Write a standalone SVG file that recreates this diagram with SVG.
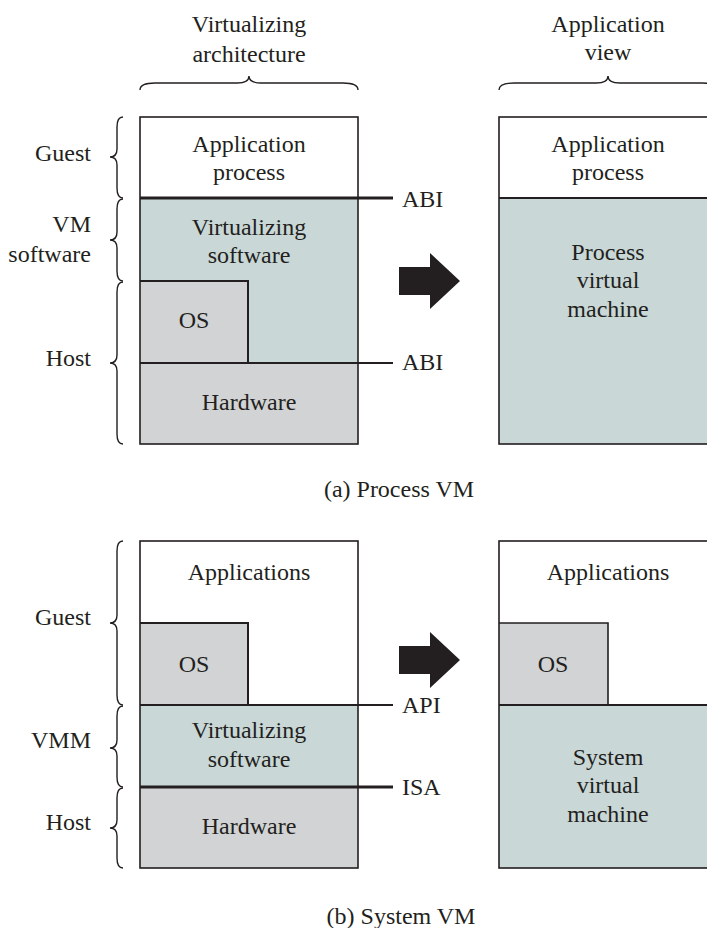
<svg xmlns="http://www.w3.org/2000/svg" width="707" height="928" viewBox="0 0 707 928">
<style>
text{font-family:"Liberation Serif","Times New Roman",serif;font-size:24px;fill:#231f20}
.c{text-anchor:middle}
.e{text-anchor:end}
.w{fill:#ffffff}
.t{fill:#c9d8d7}
.g{fill:#d2d3d5}
.o{fill:none;stroke:#231f20;stroke-width:1.6}
.b{fill:none;stroke:#231f20;stroke-width:1.4}
.thick{stroke:#231f20;stroke-width:3}
.thin{stroke:#231f20;stroke-width:2}
.arr{fill:#231f20}
</style>

<g id="headers">
<text class="c" x="249" y="32">Virtualizing</text>
<text class="c" x="249" y="62">architecture</text>
<path class="b" d="M140,90 Q140,83 155,83 L237,83 Q249,83 249,76 Q249,83 261,83 L343,83 Q358,83 358,90"/>
<text class="c" x="608" y="32">Application</text>
<text class="c" x="608" y="60">view</text>
<path class="b" d="M499,90 Q499,83 514,83 L596,83 Q608,83 608,76 Q608,83 620,83 L702,83 Q717,83 717,90"/>
</g>

<g id="labels-a">
<text class="e" x="91" y="161">Guest</text>
<path class="b" d="M123,117 Q117,117 117,127 L117,149 Q117,157 110,157 Q117,157 117,165 L117,188 Q117,198 123,198"/>
<text class="e" x="91" y="232">VM</text>
<text class="e" x="91" y="262">software</text>
<path class="b" d="M123,199 Q117,199 117,209 L117,232 Q117,240 110,240 Q117,240 117,248 L117,271 Q117,281 123,281"/>
<text class="e" x="91" y="366">Host</text>
<path class="b" d="M123,282 Q117,282 117,292 L117,355 Q117,363 110,363 Q117,363 117,371 L117,434 Q117,444 123,444"/>
</g>

<g id="stack-a">
<rect class="w" x="140" y="117" width="218" height="81"/>
<rect class="t" x="140" y="198" width="218" height="165"/>
<rect class="g" x="140" y="281" width="108" height="82"/>
<rect class="g" x="140" y="363" width="218" height="81"/>
<rect class="o" x="140" y="117" width="218" height="327"/>
<path class="o" style="stroke-width:2" d="M140,281 L248,281 L248,363"/>
<text class="c" x="249" y="152">Application</text>
<text class="c" x="249" y="180">process</text>
<text class="c" x="249" y="235">Virtualizing</text>
<text class="c" x="249" y="263">software</text>
<text class="c" x="194" y="328">OS</text>
<text class="c" x="249" y="410">Hardware</text>
</g>

<g id="view-a">
<rect class="w" x="499" y="117" width="218" height="81"/>
<rect class="t" x="499" y="198" width="218" height="246"/>
<rect class="o" x="499" y="117" width="218" height="327"/>
<line class="thin" x1="499" y1="198" x2="717" y2="198"/>
<text class="c" x="608" y="152">Application</text>
<text class="c" x="608" y="180">process</text>
<text class="c" x="608" y="260">Process</text>
<text class="c" x="608" y="288">virtual</text>
<text class="c" x="608" y="317">machine</text>
</g>

<g id="interfaces-a">
<line class="thick" x1="140" y1="198" x2="393" y2="198"/>
<text x="402" y="207">ABI</text>
<line class="thin" x1="140" y1="363" x2="393" y2="363"/>
<text x="402" y="370">ABI</text>
</g>

<g id="arrow-a">
<polygon class="arr" points="399,267 430,267 430,253 460,281 430,309 430,295 399,295"/>
</g>

<text class="c" x="399" y="497">(a) Process VM</text>

<g id="labels-b">
<text class="e" x="91" y="625">Guest</text>
<path class="b" d="M123,541 Q117,541 117,551 L117,615 Q117,623 110,623 Q117,623 117,631 L117,695 Q117,705 123,705"/>
<text class="e" x="91" y="748">VMM</text>
<path class="b" d="M123,706 Q117,706 117,716 L117,740 Q117,748 110,748 Q117,748 117,756 L117,777 Q117,787 123,787"/>
<text class="e" x="91" y="830">Host</text>
<path class="b" d="M123,788 Q117,788 117,798 L117,820 Q117,828 110,828 Q117,828 117,836 L117,858 Q117,868 123,868"/>
</g>

<g id="stack-b">
<rect class="w" x="140" y="541" width="218" height="164"/>
<rect class="g" x="140" y="623" width="108" height="82"/>
<rect class="t" x="140" y="705" width="218" height="82"/>
<rect class="g" x="140" y="787" width="218" height="81"/>
<rect class="o" x="140" y="541" width="218" height="327"/>
<path class="o" style="stroke-width:2" d="M140,623 L248,623 L248,705"/>
<text class="c" x="249" y="580">Applications</text>
<text class="c" x="194" y="672">OS</text>
<text class="c" x="249" y="738">Virtualizing</text>
<text class="c" x="249" y="767">software</text>
<text class="c" x="249" y="834">Hardware</text>
</g>

<g id="view-b">
<rect class="w" x="499" y="541" width="218" height="164"/>
<rect class="g" x="499" y="623" width="109" height="82"/>
<rect class="t" x="499" y="705" width="218" height="163"/>
<rect class="o" x="499" y="541" width="218" height="327"/>
<path class="o" d="M499,623 L608,623 L608,705"/>
<line class="thin" x1="499" y1="705" x2="717" y2="705"/>
<text class="c" x="608" y="580">Applications</text>
<text class="c" x="553" y="672">OS</text>
<text class="c" x="608" y="765">System</text>
<text class="c" x="608" y="793">virtual</text>
<text class="c" x="608" y="822">machine</text>
</g>

<g id="interfaces-b">
<line class="thin" x1="140" y1="705" x2="393" y2="705"/>
<text x="402" y="713">API</text>
<line class="thick" x1="140" y1="787" x2="393" y2="787"/>
<text x="402" y="795">ISA</text>
</g>

<g id="arrow-b">
<polygon class="arr" points="399,646 430,646 430,632 460,660 430,688 430,674 399,674"/>
</g>

<text class="c" x="401" y="924">(b) System VM</text>
</svg>
